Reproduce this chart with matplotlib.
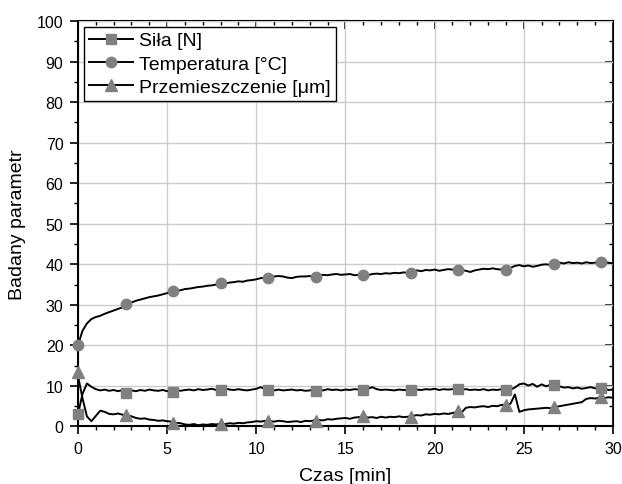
"""Wykres: siła, temperatura i przemieszczenie w funkcji czasu"""

import numpy as np
import matplotlib
matplotlib.use("Agg")
import matplotlib.pyplot as plt
from matplotlib.lines import Line2D
from matplotlib.ticker import MultipleLocator

plt.rcParams['font.family'] = ['Liberation Sans', 'DejaVu Sans']

# czas [min], krok 0.25
czas = np.round(np.arange(0, 30.01, 0.25), 2)

temperatura = [
    20.0, 23.6, 25.4, 26.5, 27.0, 27.3, 27.8, 28.2, 28.6, 29.0, 29.4, 30.0,
    30.6, 31.0, 31.3, 31.6, 31.9, 32.1, 32.3, 32.6, 32.9, 33.3, 33.5, 33.6,
    33.9, 34.0, 34.2, 34.4, 34.5, 34.7, 34.8, 35.0, 35.3, 35.2, 35.5, 35.6,
    35.8, 35.7, 36.0, 36.1, 36.3, 36.6, 36.7, 36.8, 37.0, 37.1, 37.0, 36.7,
    36.6, 36.9, 37.0, 37.0, 37.1, 36.9, 37.2, 37.4, 37.3, 37.5, 37.6, 37.4,
    37.5, 37.6, 37.3, 37.4, 37.5, 37.3, 37.6, 37.7, 37.6, 37.8, 37.7, 37.9,
    37.8, 38.0, 37.9, 38.1, 38.5, 38.3, 38.6, 38.5, 38.7, 38.4, 38.6, 38.8,
    38.7, 38.8, 38.6, 38.4, 38.1, 38.5, 38.7, 38.9, 38.8, 39.0, 38.8, 38.7,
    38.8, 39.1, 39.6, 39.8, 39.5, 39.7, 39.4, 39.6, 39.9, 40.0, 39.8, 40.1,
    40.4, 40.2, 40.5, 40.3, 40.4, 40.2, 40.5, 40.3, 40.4, 40.6, 40.7, 40.4,
    40.2,
]

sila = [
    3.0, 8.0, 10.6, 9.8, 9.2, 8.9, 9.1, 8.8, 9.0, 8.7, 9.0, 8.8,
    8.9, 8.7, 9.0, 8.8, 9.1, 8.9, 8.8, 9.0, 8.7, 8.9, 9.0, 8.8,
    9.0, 9.1, 8.9, 9.2, 9.0, 9.1, 9.3, 9.0, 9.2, 9.4, 9.1, 9.0,
    9.2, 9.0, 8.9, 9.1, 9.3, 9.7, 9.2, 9.0, 8.9, 9.1, 8.9, 9.0,
    9.1, 8.9, 9.0, 8.8, 8.9, 9.1, 9.0, 8.9, 9.2, 9.0, 9.1, 8.9,
    9.1, 9.0, 9.2, 9.1, 9.0, 9.3, 9.7, 9.2, 9.0, 9.1, 9.0, 8.9,
    9.1, 9.0, 8.9, 9.2, 9.1, 9.0, 9.2, 9.1, 9.3, 9.0, 9.2, 9.1,
    9.2, 9.3, 9.1, 9.2, 9.0, 9.1, 9.0, 9.2, 8.9, 9.1, 9.0, 9.2,
    8.9, 9.1, 9.6, 10.4, 10.6, 10.1, 10.5, 9.8, 10.4, 9.9, 10.3, 10.2,
    9.9, 9.6, 9.7, 9.4, 9.6, 9.3, 9.5, 9.7, 9.4, 9.6, 9.3, 9.0,
    9.1,
]

przemieszczenie = [
    12.5, 7.0, 2.5, 1.3, 2.6, 3.9, 3.6, 3.1, 3.0, 3.2, 2.9, 2.8,
    2.5, 2.1, 1.9, 2.0, 1.7, 1.6, 1.4, 1.5, 1.3, 1.2, 0.9, 0.8,
    0.5, 0.4, 0.6, 0.3, 0.5, 0.4, 0.6, 0.5, 0.7, 0.6, 0.8, 0.7,
    0.9, 0.8, 1.0, 1.1, 1.3, 1.2, 1.4, 1.3, 1.2, 1.4, 1.3, 1.1,
    1.2, 1.3, 1.1, 1.4, 1.3, 1.5, 1.6, 1.5, 1.8, 1.7, 1.9, 2.0,
    2.1, 1.9, 2.2, 2.3, 2.5, 2.2, 2.3, 2.1, 2.4, 2.2, 2.4, 2.3,
    2.5, 2.3, 2.4, 2.6, 2.8, 2.7, 3.0, 2.9, 3.1, 3.0, 3.2, 3.1,
    3.3, 3.6, 3.4, 4.6, 4.8, 4.7, 4.9, 5.0, 4.8, 5.1, 5.0, 5.3,
    5.4, 5.6, 7.9, 3.6, 4.0, 4.2, 4.3, 4.4, 4.5, 4.6, 4.5, 4.8,
    5.0, 5.2, 5.4, 5.6, 5.8, 6.0, 6.8, 7.0, 6.9, 7.1, 7.0, 7.2,
    7.1,
]

# punkty ze znacznikami
czas_zn = [0, 2.67, 5.33, 8.0, 10.67, 13.33, 16.0, 18.67, 21.33, 24.0, 26.67, 29.33]
sila_zn = [3.0, 8.3, 8.4, 9.1, 9.1, 8.7, 9.0, 8.9, 9.2, 8.9, 10.2, 9.6]
temp_zn = [20.0, 30.3, 33.5, 35.3, 36.7, 36.8, 37.4, 37.8, 38.7, 38.7, 40.1, 40.6]
przem_zn = [13.5, 2.8, 0.9, 0.7, 1.4, 1.4, 2.5, 2.4, 3.9, 5.3, 4.8, 7.3]

etykiety = ['Siła [N]', 'Temperatura [°C]', 'Przemieszczenie [μm]']
GRAY = '#808080'

fig = plt.figure(figsize=(6.22, 4.85), dpi=100)
ax = fig.add_axes([0.1254, 0.1186, 0.8601, 0.836])

ax.plot(czas, sila, color='k', lw=1.4, zorder=3)
ax.plot(czas, temperatura, color='k', lw=1.4, zorder=3)
ax.plot(czas, przemieszczenie, color='k', lw=1.4, zorder=3)

ax.plot(czas_zn, sila_zn, 's', color=GRAY, ms=7, zorder=4, clip_on=False)
ax.plot(czas_zn, temp_zn, 'o', color=GRAY, ms=7.5, zorder=4, clip_on=False)
ax.plot(czas_zn, przem_zn, '^', color=GRAY, ms=8, zorder=4, clip_on=False)

ax.set_xlim(0, 30)
ax.set_ylim(0, 100)
ax.xaxis.set_major_locator(MultipleLocator(5))
ax.xaxis.set_minor_locator(MultipleLocator(1))
ax.yaxis.set_major_locator(MultipleLocator(10))
ax.yaxis.set_minor_locator(MultipleLocator(5))
ax.grid(True, which='major', color='#cccccc', lw=1.0, zorder=0)
ax.set_axisbelow(True)

ax.tick_params(which='major', direction='out', length=5.5, width=1.2, labelsize=11.5, pad=5)
ax.tick_params(which='minor', direction='out', length=3, width=1.0)
for s in ax.spines.values():
    s.set_linewidth(1.5)

# górna i prawa oś - znaczniki do środka
top = ax.secondary_xaxis('top')
top.xaxis.set_major_locator(MultipleLocator(5))
top.xaxis.set_minor_locator(MultipleLocator(1))
top.tick_params(which='major', direction='in', length=5.5, width=1.2, labeltop=False)
top.tick_params(which='minor', direction='in', length=3, width=1.0)
right = ax.secondary_yaxis('right')
right.yaxis.set_major_locator(MultipleLocator(10))
right.yaxis.set_minor_locator(MultipleLocator(5))
right.tick_params(which='major', direction='in', length=5.5, width=1.2, labelright=False)
right.tick_params(which='minor', direction='in', length=3, width=1.0)
ax.spines['top'].set_visible(False)
ax.spines['right'].set_visible(False)
top.spines['top'].set_linewidth(1.5)
right.spines['right'].set_linewidth(1.5)

ax.set_xlabel('Czas [min]', fontsize=14, labelpad=8)
ax.set_ylabel('Badany parametr', fontsize=14, labelpad=8)

uchwyty = [
    Line2D([], [], color='k', lw=1.4, marker='s', ms=7, mfc=GRAY, mec=GRAY),
    Line2D([], [], color='k', lw=1.4, marker='o', ms=7.5, mfc=GRAY, mec=GRAY),
    Line2D([], [], color='k', lw=1.4, marker='^', ms=8, mfc=GRAY, mec=GRAY),
]
leg = ax.legend(uchwyty, etykiety, loc='upper left', fontsize=14, frameon=True,
                fancybox=False, edgecolor='k', framealpha=1, borderaxespad=0.3,
                borderpad=0.25, labelspacing=0.3, handlelength=2.3,
                handletextpad=0.3)
leg.get_frame().set_linewidth(1.0)

fig.savefig('out.png', dpi=100)
